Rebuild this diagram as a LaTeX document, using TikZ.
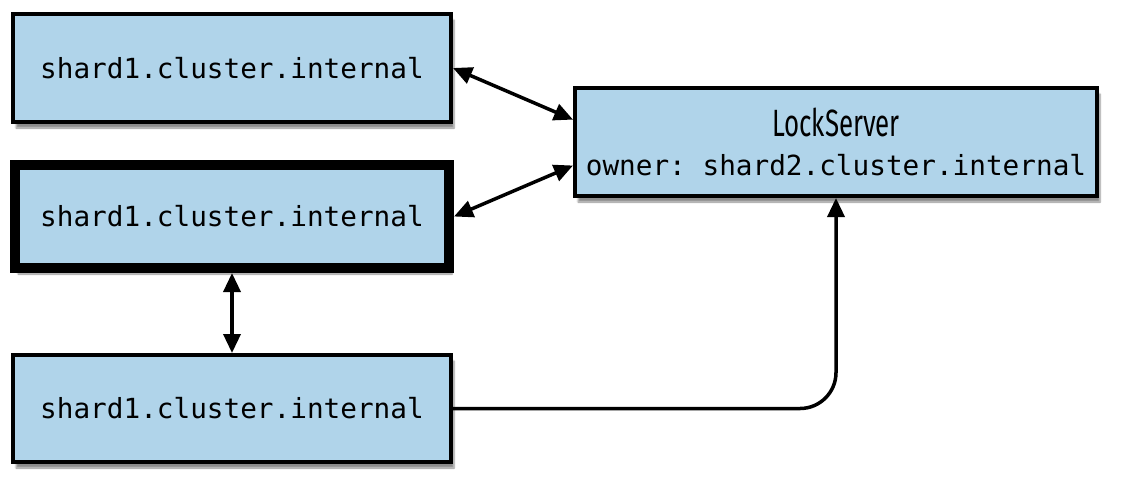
\documentclass[tikz,border=0pt]{standalone}
\usepackage{fontspec}
\setmonofont{DejaVu Sans Mono}
\newfontfamily\lockfont[FakeStretch=0.68]{Fira Sans}
\usetikzlibrary{arrows.meta,shadows.blur,calc}
\definecolor{boxblue}{RGB}{176,212,234}
\tikzset{
  hostbox/.style={draw=black, fill=boxblue, line width=4pt, rectangle,
    inner sep=0pt, font=\ttfamily\fontsize{27.7}{32}\selectfont,
    blur shadow={shadow xshift=3pt, shadow yshift=-6pt, shadow blur steps=6, shadow opacity=45}},
  link/.style={line width=3.5pt, {Triangle[length=19pt,width=17pt]}-{Triangle[length=19pt,width=17pt]}},
  onelink/.style={line width=3.5pt, -{Triangle[length=19pt,width=17pt]}, rounded corners=36pt}
}
\begin{document}
\begin{tikzpicture}[x=1pt,y=-1pt]
\useasboundingbox (0,0) rectangle (1121,491);
\node[hostbox, minimum width=438pt, minimum height=108pt] (box1) at (232,68) {shard1.cluster.internal};
\node[hostbox, line width=10pt, minimum width=434pt, minimum height=103pt] (box2) at (232,216.5) {shard1.cluster.internal};
\node[hostbox, minimum width=438pt, minimum height=107pt] (box3) at (232,408.5) {shard1.cluster.internal};
\node[hostbox, minimum width=522pt, minimum height=108pt, align=center] (lock) at (836,142)
  {{\lockfont\fontsize{38}{40}\selectfont LockServer}\\[7pt]owner: shard2.cluster.internal};
\coordinate (l1) at ($(lock.north west)!0.3!(lock.south west)$);
\coordinate (l2) at ($(lock.north west)!0.71!(lock.south west)$);
\draw[link] (box1.east) -- (l1);
\draw[link] (box2.east) -- (l2);
\draw[link] (box2.south) -- (box3.north);
\draw[onelink] (box3.east) -- (box3.east -| lock.south) -- (lock.south);
\end{tikzpicture}
\end{document}
